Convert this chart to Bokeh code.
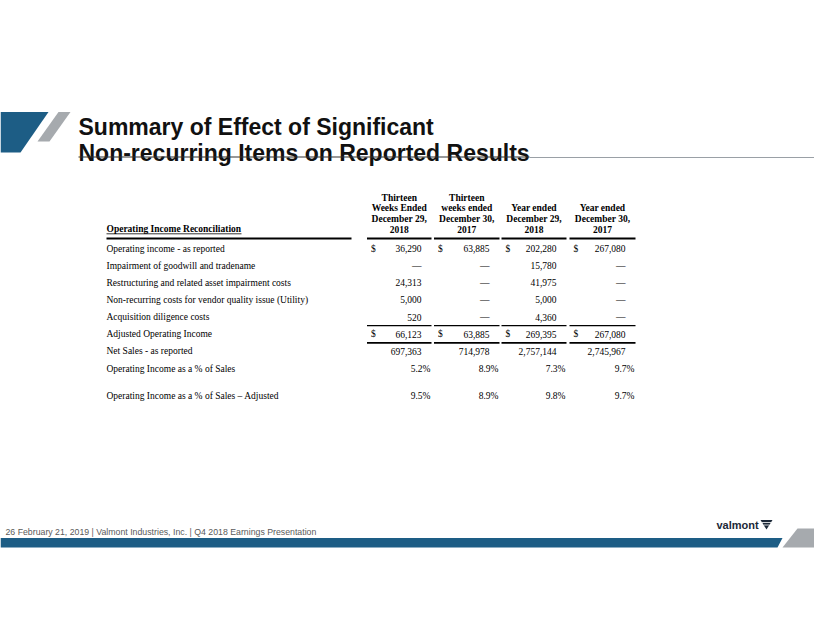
from bokeh.plotting import figure
from bokeh.models import Range1d
from bokeh.core.properties import value
from bokeh.embed import file_html
from bokeh.resources import INLINE

# ---------------- data ----------------
title_lines = ["Summary of Effect of Significant",
               "Non-recurring Items on Reported Results"]
footer_text = "26 February 21, 2019 |  Valmont Industries, Inc.  |  Q4 2018 Earnings Presentation"
table_title = "Operating Income Reconciliation"
row_labels = [
    "Operating income - as reported",
    "Impairment of goodwill and tradename",
    "Restructuring and related asset impairment costs",
    "Non-recurring costs for vendor quality issue (Utility)",
    "Acquisition diligence costs",
    "Adjusted Operating Income",
    "Net Sales - as reported",
    "Operating Income as a % of Sales",
    "Operating Income as a % of Sales \u2013 Adjusted",
]
col_headers = [
    ["Thirteen", "Weeks Ended", "December 29,", "2018"],
    ["Thirteen", "weeks ended", "December 30,", "2017"],
    ["Year ended", "December 29,", "2018"],
    ["Year ended", "December 30,", "2017"],
]
q4_2018 = [36290, None, 24313, 5000, 520, 66123, 697363]
q4_2017 = [63885, None, None, None, None, 63885, 714978]
fy_2018 = [202280, 15780, 41975, 5000, 4360, 269395, 2757144]
fy_2017 = [267080, None, None, None, None, 267080, 2745967]
pct_reported = [5.2, 8.9, 7.3, 9.7]
pct_adjusted = [9.5, 8.9, 9.8, 9.7]
dollar_rows = [0, 5]

# ---------------- layout ----------------
BLUE = "#1d5d85"
GRAY = "#a6aaae"
SERIF = value("Liberation Serif")
SANS = value("Liberation Sans")
W, H = 814, 627

p = figure(width=W, height=H, x_range=Range1d(0, W), y_range=Range1d(H, 0),
           output_backend="svg", toolbar_location=None, min_border=0,
           x_axis_location=None, y_axis_location=None)
p.grid.visible = False
p.outline_line_color = None
p.background_fill_color = "white"
p.border_fill_color = "white"

# banner shapes
p.patch([0, 48, 20, 0], [111.5, 111.5, 152, 152], color=BLUE, line_width=0)
p.patch([58, 70, 49, 37], [111.5, 111.5, 141, 141], color=GRAY, line_width=0)

# title
p.text(x=[78, 78], y=[126.7, 152.7], text=title_lines, text_font=SANS,
       text_font_style="bold", text_font_size="23px", text_color="#111111",
       text_baseline="alphabetic", text_align="left")
p.segment(x0=[78], y0=[156.5], x1=[529], y1=[156.5], line_color="#333333", line_width=1.2)
p.segment(x0=[529], y0=[157], x1=[W], y1=[157], line_color="#9aa0a6", line_width=1.2)

# table geometry
label_x = 106
seg_l = [366.5, 433.5, 501, 569]
seg_r = [431, 499, 566, 635]
centers = [(a + b) / 2 for a, b in zip(seg_l, seg_r)]
hdr_step = 10.5
hdr_last = 228.5
row_y = [248 + i * 17.15 for i in range(8)] + [395]

# header
for c, lines in zip(centers, col_headers):
    n = len(lines)
    ys = [hdr_last - (n - 1 - k) * hdr_step for k in range(n)]
    p.text(x=[c] * n, y=ys, text=lines, text_font=SERIF, text_font_style="bold",
           text_font_size="9.5px", text_align="center", text_baseline="middle",
           text_color="#000000")
p.text(x=[label_x], y=[hdr_last], text=[table_title], text_font=SERIF,
       text_font_style="bold", text_font_size="9.5px", text_align="left",
       text_baseline="middle", text_color="#000000")
p.segment(x0=[label_x], y0=[233.3], x1=[label_x + 135], y1=[233.3], line_color="black", line_width=0.8)
p.segment(x0=[label_x] + seg_l, y0=[238] * 5, x1=[351] + seg_r, y1=[238] * 5,
          line_color="black", line_width=1.8)

# row labels
p.text(x=[label_x] * len(row_labels), y=row_y, text=row_labels, text_font=SERIF,
       text_font_size="9.5px", text_align="left", text_baseline="middle", text_color="#000000")

# values
cols = [q4_2018, q4_2017, fy_2018, fy_2017]
for ci, col in enumerate(cols):
    xs, ys, txt = [], [], []
    for ri, v in enumerate(col):
        xs.append(seg_r[ci] - 10)
        ys.append(row_y[ri])
        txt.append("\u2014" if v is None else f"{v:,}")
    p.text(x=xs, y=ys, text=txt, text_font=SERIF, text_font_size="9.5px",
           text_align="right", text_baseline="middle", text_color="#000000")
    p.text(x=[seg_l[ci] + 4] * len(dollar_rows), y=[row_y[r] for r in dollar_rows],
           text=["$"] * len(dollar_rows), text_font=SERIF, text_font_size="9.5px",
           text_align="left", text_baseline="middle", text_color="#000000")
    p.text(x=[seg_r[ci] - 1] * 2, y=[row_y[7], row_y[8]],
           text=[f"{pct_reported[ci]:.1f}%", f"{pct_adjusted[ci]:.1f}%"], text_font=SERIF,
           text_font_size="9.5px", text_align="right", text_baseline="middle",
           text_color="#000000")

# total rules
mid1 = (row_y[4] + row_y[5]) / 2
mid2 = (row_y[5] + row_y[6]) / 2
p.segment(x0=seg_l, y0=[mid1] * 4, x1=seg_r, y1=[mid1] * 4, line_color="black", line_width=1.3)
p.segment(x0=seg_l, y0=[mid2] * 4, x1=seg_r, y1=[mid2] * 4, line_color="black", line_width=1.8)

# footer
p.text(x=[5], y=[531], text=[footer_text], text_font=SANS, text_font_size="8.75px",
       text_color="#5a5a5a", text_baseline="middle", text_align="left")
p.patch([0, 782, 777, 0], [537.5, 537.5, 547, 547], color=BLUE, line_width=0)
p.patch([797, W + 10, W + 10, 782], [528, 528, 547, 547], color=GRAY, line_width=0)

# logo
p.text(x=[716], y=[524], text=["valmont"], text_font=SANS, text_font_style="bold",
       text_font_size="11px", text_color="#1b2838", text_baseline="middle", text_align="left")
p.patch([760, 772, 766], [519.5, 519.5, 529], color="#1b2838", line_width=0)
p.segment(x0=[761.5, 763], y0=[522, 524.5], x1=[770.5, 769], y1=[522, 524.5],
          line_color="white", line_width=0.8)

html = file_html(p, INLINE)
open("out.html", "w").write(html)
